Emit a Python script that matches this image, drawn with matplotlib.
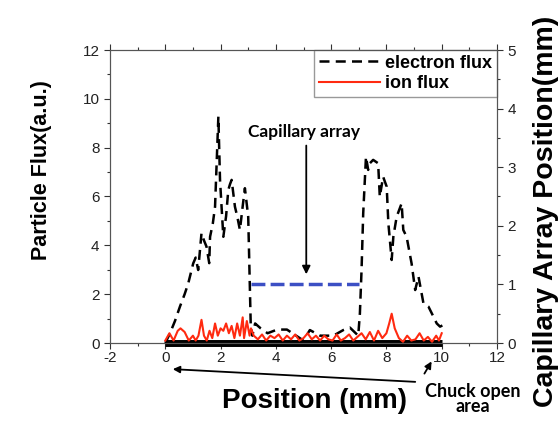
import matplotlib
matplotlib.use("Agg")
import matplotlib.pyplot as plt

# electron flux (left axis)
elec_x = [0.0, 0.17, 0.35, 0.53, 0.7, 0.83, 1.01, 1.1, 1.19, 1.31,
          1.4, 1.49, 1.59, 1.62, 1.72, 1.80, 1.92, 1.98, 2.04, 2.10,
          2.2, 2.28, 2.34, 2.40, 2.52, 2.6, 2.70, 2.8, 2.88, 3.00,
          3.09, 3.15, 3.25, 3.45, 3.7, 4.05, 4.4, 4.6, 5.0, 5.23,
          5.6, 6.08, 6.44, 6.68, 6.98, 7.04, 7.10, 7.16, 7.26, 7.34,
          7.40, 7.52, 7.70, 7.76, 7.88, 8.01, 8.07, 8.19, 8.25, 8.37,
          8.55, 8.61, 8.73, 8.91, 9.04, 9.16, 9.34, 9.52, 9.70, 9.82,
          9.94, 10.06]
elec_y = [0.0, 0.4, 0.9, 1.49, 2.0, 2.44, 3.26, 3.5, 2.99, 4.5,
          4.2, 3.95, 3.27, 4.35, 4.9, 5.58, 9.27, 6.68, 5.5, 4.35,
          5.2, 6.27, 6.5, 6.68, 5.58, 5.2, 4.63, 5.6, 6.34, 5.17,
          0.8, 0.3, 0.8, 0.6, 0.4, 0.55, 0.55, 0.4, 0.1, 0.53,
          0.3, 0.3, 0.53, 0.63, 0.3, 1.21, 2.99, 5.31, 7.63, 7.09,
          7.36, 7.5, 7.36, 5.99, 6.81, 6.4, 4.9, 3.4, 4.35, 5.17,
          5.72, 4.63, 4.35, 3.26, 2.17, 2.72, 1.62, 1.49, 1.08, 0.8,
          0.67, 0.74]

# ion flux (left axis)
ion_x = [0.0, 0.15, 0.3, 0.45, 0.55, 0.7, 0.85, 1.0, 1.1, 1.2,
         1.31, 1.4, 1.5, 1.6, 1.7, 1.8, 1.9, 2.0, 2.1, 2.2,
         2.3, 2.4, 2.5, 2.6, 2.7, 2.8, 2.85, 2.95, 3.05, 3.1,
         3.2, 3.35, 3.5, 3.65, 3.8, 3.95, 4.1, 4.25, 4.4, 4.55,
         4.7, 4.85, 5.0, 5.15, 5.3, 5.45, 5.6, 5.75, 5.9, 6.05,
         6.2, 6.35, 6.5, 6.65, 6.8, 6.95, 7.1, 7.25, 7.4, 7.55,
         7.7, 7.85, 8.0, 8.1, 8.19, 8.3, 8.45, 8.6, 8.75, 8.9,
         9.05, 9.2, 9.35, 9.5, 9.65, 9.8, 9.9, 10.0]
ion_y = [0.1, 0.4, 0.1, 0.5, 0.6, 0.45, 0.1, 0.3, 0.1, 0.3,
         0.95, 0.3, 0.1, 0.5, 0.2, 0.8, 0.3, 0.6, 0.5, 0.8,
         0.4, 0.7, 0.2, 0.8, 0.3, 1.05, 0.2, 0.9, 0.3, 0.6,
         0.3, 0.15, 0.35, 0.1, 0.3, 0.2, 0.35, 0.1, 0.3, 0.15,
         0.35, 0.1, 0.2, 0.4, 0.15, 0.3, 0.1, 0.3, 0.15, 0.1,
         0.35, 0.1, 0.2, 0.35, 0.1, 0.25, 0.4, 0.15, 0.45, 0.1,
         0.5, 0.2, 0.4, 0.8, 1.2, 0.6, 0.2, 0.05, 0.3, 0.1,
         0.15, 0.4, 0.1, 0.25, 0.05, 0.3, 0.1, 0.4]

# capillary array position (right axis)
cap_x = [3.1, 7.0]
cap_y = [1.0, 1.0]

# chuck open area
chuck_x = [0.0, 10.0]
chuck_y = [0.0, 0.0]

plt.rcParams['font.family'] = ['Liberation Sans', 'DejaVu Sans']
plt.rcParams['axes.unicode_minus'] = False

fig = plt.figure(figsize=(5.6, 4.23), dpi=100)
ax = fig.add_axes([110 / 560, 80 / 423, 387 / 560, 293 / 423])
ax2 = ax.twinx()

ax.plot(chuck_x, chuck_y, color='black', lw=5, solid_capstyle='butt', zorder=2, clip_on=False)
ax.plot(elec_x, elec_y, color='black', lw=1.8, ls=(0, (4, 2.5)), label='electron flux', zorder=3)
ax.plot(ion_x, ion_y, color='#ff2a10', lw=1.5, label='ion flux', zorder=4)
ax2.plot(cap_x, cap_y, color='#3c4fc4', lw=2.5, ls=(0, (4, 1.5)))

ax.set_xlim(-2, 12)
ax.set_ylim(0, 12)
ax2.set_ylim(0, 5)
ax.set_xticks(range(-2, 13, 2))
ax.set_xticks(range(-1, 12, 2), minor=True)
ax.set_yticks(range(0, 13, 2))
ax.set_yticks(range(1, 12, 2), minor=True)
ax2.set_yticks(range(0, 6))
ax2.set_yticks([0.5, 1.5, 2.5, 3.5, 4.5], minor=True)

for a in (ax, ax2):
    a.tick_params(which='major', length=4, width=0.8, labelsize=11, color='#333333', labelcolor='#222222')
    a.tick_params(which='minor', length=2.5, width=0.8, color='#333333')
    for s in a.spines.values():
        s.set_color('#555555')
        s.set_linewidth(0.8)
ax.tick_params(which='both', top=True)
ax.tick_params(axis='x', pad=2)

leg = ax.legend(loc='upper right', borderaxespad=0, handlelength=3.4,
                prop={'weight': 'bold', 'size': 13}, fancybox=False,
                edgecolor='#999999', framealpha=1, borderpad=0.25, labelspacing=0.2,
                handletextpad=0.3)

fig.text(42 / 560, 1 - 170 / 423, 'Particle Flux(a.u.)', fontsize=15.5, fontweight='bold',
         rotation=90, ha='center', va='center')
fig.text(315 / 560, 1 - 401 / 423, 'Position (mm)', fontsize=20, fontweight='bold',
         ha='center', va='center')
fig.text(546 / 560, 1 - 211 / 423, 'Capillary Array Position(mm)', fontsize=20.5,
         fontweight='bold', rotation=90, ha='center', va='center')

ax.text(5.0, 8.65, 'Capillary array', fontsize=12.5, family='Lato',
        fontweight='bold', ha='center', va='center')
ax.annotate('', xy=(5.1, 2.7), xytext=(5.1, 8.2),
            arrowprops=dict(arrowstyle='-|>', color='black', lw=1.3, mutation_scale=12))

fig.text(473 / 560, 1 - 399 / 423, 'Chuck open\narea', fontsize=13, family='Lato',
         fontweight='bold', ha='center', va='center', linespacing=0.9)
ax.annotate('', xy=(170, 423 - 369), xytext=(418, 423 - 382), xycoords='figure pixels',
            textcoords='figure pixels',
            arrowprops=dict(arrowstyle='-|>', color='black', lw=1.3, mutation_scale=10))
ax.annotate('', xy=(433, 423 - 359), xytext=(423, 423 - 376), xycoords='figure pixels',
            textcoords='figure pixels',
            arrowprops=dict(arrowstyle='-|>', color='black', lw=1.3, mutation_scale=10))

fig.savefig('out.png', dpi=100)
